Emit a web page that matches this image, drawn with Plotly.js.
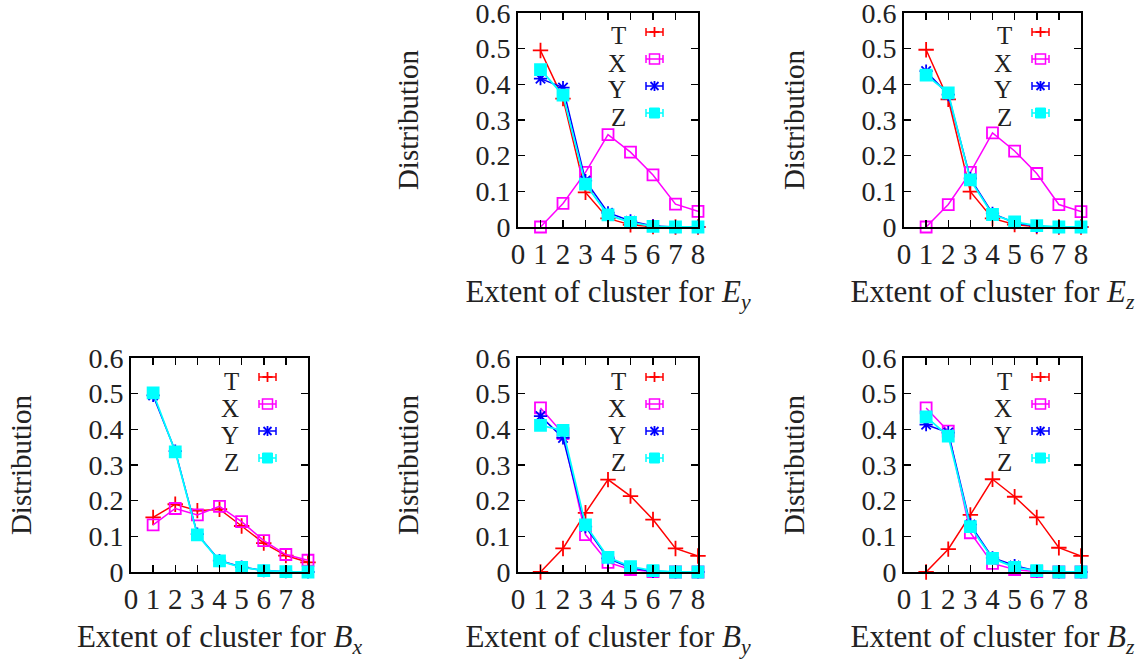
<!DOCTYPE html>
<html><head><meta charset="utf-8">
<script src="https://cdn.plot.ly/plotly-3.0.1.min.js"></script>
<style>html,body{margin:0;padding:0;background:#fff}#chart{width:1141px;height:662px}</style>
</head><body><div id="chart"></div>
<script>
const xs = [1,2,3,4,5,6,7,8];
const xTicks = [0,1,2,3,4,5,6,7,8];
const yTicks = [0,0.1,0.2,0.3,0.4,0.5,0.6];
const yTickText = ['0','0.1','0.2','0.3','0.4','0.5','0.6'];
const seriesNames = ['T','X','Y','Z'];
const panelTitles = ['<i>E<sub>y</sub></i>','<i>E<sub>z</sub></i>','<i>B<sub>x</sub></i>','<i>B<sub>y</sub></i>','<i>B<sub>z</sub></i>'];

const eyT = [0.495,0.360,0.097,0.024,0.006,0.001,0,0];
const eyX = [0,0.066,0.153,0.259,0.210,0.146,0.064,0.044];
const eyY = [0.416,0.391,0.130,0.040,0.017,0.003,0,0];
const eyZ = [0.441,0.370,0.120,0.034,0.013,0.002,0,0];

const ezT = [0.497,0.358,0.099,0.024,0.007,0.001,0,0];
const ezX = [0,0.063,0.153,0.264,0.213,0.150,0.063,0.043];
const ezY = [0.437,0.371,0.136,0.038,0.012,0.002,0,0];
const ezZ = [0.426,0.376,0.132,0.035,0.014,0.004,0,0];

const bxT = [0.153,0.190,0.172,0.176,0.129,0.081,0.046,0.027];
const bxX = [0.132,0.178,0.160,0.184,0.141,0.088,0.049,0.033];
const bxY = [0.495,0.339,0.106,0.032,0.014,0.004,0.001,0];
const bxZ = [0.502,0.337,0.104,0.031,0.013,0.004,0.001,0];

const byT = [0,0.066,0.166,0.259,0.213,0.147,0.066,0.045];
const byX = [0.460,0.388,0.105,0.027,0.007,0.001,0,0];
const byY = [0.437,0.376,0.127,0.038,0.012,0.002,0,0];
const byZ = [0.411,0.397,0.132,0.041,0.015,0.004,0,0];

const bzT = [0,0.064,0.160,0.260,0.211,0.153,0.068,0.045];
const bzX = [0.460,0.395,0.110,0.024,0.007,0.001,0,0];
const bzY = [0.413,0.391,0.133,0.040,0.018,0.003,0,0];
const bzZ = [0.435,0.381,0.127,0.038,0.013,0.004,0,0];

const panels = [
  [eyT,eyX,eyY,eyZ],
  [ezT,ezX,ezY,ezZ],
  [bxT,bxX,bxY,bxZ],
  [byT,byX,byY,byZ],
  [bzT,bzX,bzY,bzZ]
];

const W = 1141, H = 662;
// plot boxes in pixels [left,right,top,bottom]
const boxes = [
  [518,698,13,227],
  [904,1081,13,227],
  [131,308,358,572],
  [518,698,358,572],
  [904,1081,358,572]
];
const colors = ['#ff0000','#ff00ff','#0000ff','#00ffff'];
const symbols = ['cross-thin-open','square-open','asterisk-open','square'];
const FONT = 'Liberation Serif, Times New Roman, serif';
const TXT = '#222';
const traces = [];
const shapes = [];
const annotations = [];
const layout = {
  width: W, height: H,
  margin: {l:0,r:0,t:0,b:0},
  paper_bgcolor:'#fff', plot_bgcolor:'#fff',
  font: {family: FONT, size: 28, color: TXT},
  showlegend: false
};

// legend key layout (pixel offsets inside each plot box)
const LEG_TEXT_RIGHT = 110, LEG_KEY0 = 128, LEG_KEY1 = 145, LEG_ROW0 = 19, LEG_ROW_STEP = 27, LEG_FONT = 25;

panels.forEach((p, i) => {
  const n = i === 0 ? '' : String(i+1);
  const b = boxes[i];
  const bw = b[1]-b[0], bh = b[3]-b[2];
  p.forEach((ys, k) => {
    traces.push({
      type:'scatter', mode:'lines+markers',
      x: xs, y: ys, name: seriesNames[k],
      xaxis: 'x'+n, yaxis: 'y'+n,
      line:{color:colors[k], width: k===3 ? 1.8 : 1.5},
      marker:{symbol:symbols[k], size:11, color:colors[k], line:{color:colors[k], width:1.8}},
      cliponaxis:false
    });
  });
  layout['xaxis'+n] = {
    domain:[b[0]/W, b[1]/W], anchor:'y'+n, range:[0,8],
    tickvals:xTicks, ticks:'inside', ticklen:7, tickwidth:1.5, tickcolor:'#000',
    showline:true, linecolor:'#000', linewidth:2, mirror:'ticks',
    showgrid:false, zeroline:false, fixedrange:true, ticklabeloverflow:'allow',
    tickfont:{family:FONT, size:29, color:TXT},
    title:{text:'Extent of cluster for '+panelTitles[i], font:{family:FONT,size:31,color:TXT}, standoff:12}
  };
  layout['yaxis'+n] = {
    domain:[1-b[3]/H, 1-b[2]/H], anchor:'x'+n, range:[0,0.6],
    tickvals:yTicks, ticktext:yTickText,
    ticks:'inside', ticklen:7, tickwidth:1.5, tickcolor:'#000',
    showline:true, linecolor:'#000', linewidth:2, mirror:'ticks',
    showgrid:false, zeroline:false, fixedrange:true, ticklabeloverflow:'allow',
    tickfont:{family:FONT, size:28, color:TXT},
    title:{text:'Distribution', font:{family:FONT,size:29,color:TXT}, standoff:48}
  };
  // hand-drawn gnuplot-style key: label, then error-bar sample with marker
  const xr = 'x'+n+' domain', yr = 'y'+n+' domain';
  const fx = px => px/bw, fy = py => 1 - py/bh;
  seriesNames.forEach((nm, k) => {
    const cy = LEG_ROW0 + k*LEG_ROW_STEP;
    const c = colors[k];
    annotations.push({xref:xr, yref:yr, x:fx(LEG_TEXT_RIGHT), y:fy(cy+4), xanchor:'right', yanchor:'middle',
      text:nm, showarrow:false, font:{family:FONT,size:LEG_FONT,color:TXT}});
    const ln = (x0,y0,x1,y1,w) => shapes.push({type:'line', xref:xr, yref:yr, x0:fx(x0), y0:fy(y0), x1:fx(x1), y1:fy(y1), line:{color:c, width:w||1.5}});
    const cx = (LEG_KEY0+LEG_KEY1)/2;
    ln(LEG_KEY0, cy, LEG_KEY1, cy);
    ln(LEG_KEY0, cy-4, LEG_KEY0, cy+4);
    ln(LEG_KEY1, cy-4, LEG_KEY1, cy+4);
    if (k===0) { ln(cx, cy-5, cx, cy+5, 1.8); ln(cx-5, cy, cx+5, cy, 1.8); }
    if (k===1) { shapes.push({type:'rect', xref:xr, yref:yr, x0:fx(cx-5), x1:fx(cx+5), y0:fy(cy-5), y1:fy(cy+5), line:{color:c,width:1.5}, fillcolor:'rgba(0,0,0,0)'}); }
    if (k===2) { ln(cx, cy-5, cx, cy+5, 1.8); ln(cx-4, cy-4, cx+4, cy+4, 1.8); ln(cx-4, cy+4, cx+4, cy-4, 1.8); }
    if (k===3) { shapes.push({type:'rect', xref:xr, yref:yr, x0:fx(cx-5), x1:fx(cx+5), y0:fy(cy-5), y1:fy(cy+5), line:{color:c,width:1}, fillcolor:c}); }
  });
});
layout.shapes = shapes;
layout.annotations = annotations;
Plotly.newPlot('chart', traces, layout, {displayModeBar:false, staticPlot:true});
</script></body></html>
